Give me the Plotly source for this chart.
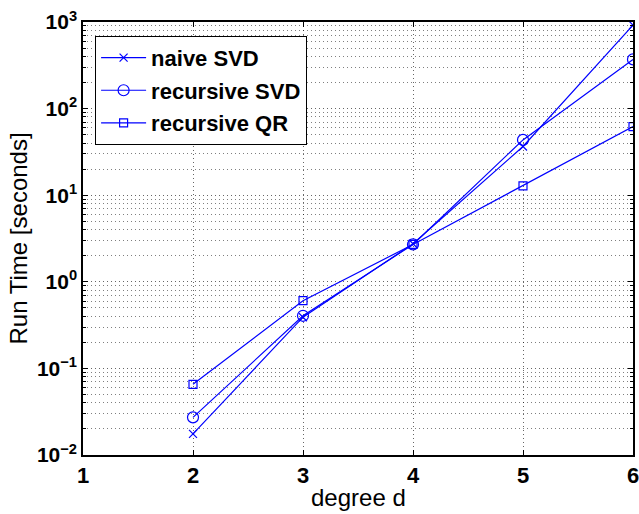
import plotly.graph_objects as go

degree = [2, 3, 4, 5, 6]
naive_svd = [0.0175, 0.39, 2.75, 36.5, 920]
recursive_svd = [0.0272, 0.405, 2.7, 43.5, 370]
recursive_qr = [0.0655, 0.605, 2.7, 12.8, 62]

y_tickvals = [1e-2, 1e-1, 1e0, 1e1, 1e2, 1e3]
y_ticktext = ["10<sup>−2</sup>", "10<sup>−1</sup>", "10<sup>0</sup>",
              "10<sup>1</sup>", "10<sup>2</sup>", "10<sup>3</sup>"]
x_tickvals = [1, 2, 3, 4, 5, 6]
y_minor_vals = [m * 10.0 ** e for e in range(-2, 3) for m in range(2, 10)]

blue = "rgb(0,0,255)"
fig = go.Figure()
series = [
    ("naive SVD", naive_svd, "x-thin-open", 8),
    ("recursive SVD", recursive_svd, "circle-open", 11),
    ("recursive QR", recursive_qr, "square-open", 8),
]
for i, (name, vals, sym, sz) in enumerate(series):
    fig.add_trace(go.Scatter(
        x=degree, y=vals, mode="lines+markers", name=name,
        legendgroup=f"g{i}",
        line=dict(color=blue, width=1.2),
        marker=dict(symbol=sym, size=sz, color=blue,
                    line=dict(color=blue, width=1.2)),
    ))

font_family = "Liberation Sans, Arial, sans-serif"
grid_dash = "1px,3px"
fig.update_layout(
    width=639, height=514,
    margin=dict(l=83, r=6, t=22, b=59),
    paper_bgcolor="white", plot_bgcolor="white",
    font=dict(family=font_family, color="black"),
    showlegend=True,
    legend=dict(
        x=0.022, y=0.968, xanchor="left", yanchor="top",
        bgcolor="white", bordercolor="black", borderwidth=1,
        font=dict(size=22, weight="bold", family=font_family),
        tracegroupgap=1, itemwidth=45,
    ),
    xaxis=dict(
        range=[1, 6], tickvals=x_tickvals,
        ticks="inside", ticklen=5, tickcolor="black",
        showline=True, linecolor="black", linewidth=1.5, mirror="ticks",
        showgrid=True, gridcolor="rgba(0,0,0,0.6)", griddash=grid_dash, gridwidth=1,
        tickfont=dict(size=22, weight="bold"),
        ticklabeloverflow="allow",
        automargin=False,
        zeroline=False,
    ),
    yaxis=dict(
        type="log", range=[-2, 3],
        tickvals=y_tickvals, ticktext=y_ticktext,
        ticks="inside", ticklen=5, tickcolor="black",
        showline=True, linecolor="black", linewidth=1.5, mirror="ticks",
        showgrid=True, gridcolor="rgba(0,0,0,0.6)", griddash=grid_dash, gridwidth=1,
        minor=dict(tickvals=y_minor_vals, ticks="inside", ticklen=3,
                   tickcolor="black", showgrid=True,
                   gridcolor="rgba(0,0,0,0.5)", griddash=grid_dash, gridwidth=1),
        tickfont=dict(size=21, weight="bold"),
        ticklabeloverflow="allow",
        automargin=False,
        zeroline=False,
    ),
    annotations=[
        dict(text="degree d", xref="paper", yref="paper", x=0.5, y=-0.0,
             yshift=-42, xanchor="center", yanchor="middle",
             showarrow=False, font=dict(size=24)),
        dict(text="Run Time [seconds]", xref="paper", yref="paper",
             x=0, xshift=-65, y=0.5, textangle=-90,
             xanchor="center", yanchor="middle",
             showarrow=False, font=dict(size=24)),
    ],
)

fig.write_html("out.html")
